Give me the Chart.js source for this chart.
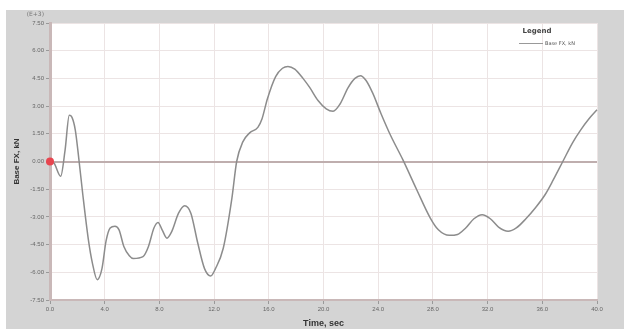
<!DOCTYPE html>
<html lang="en">
<head>
  <meta charset="UTF-8" />
  <title>Base FX time history</title>
  <script src="https://cdn.jsdelivr.net/npm/chart.js"></script>
  <style>
    body { margin: 0; background: white; }
    #chart { display: block; }
  </style>
</head>
<body>
  <canvas id="chart" width="624" height="329"></canvas>
  <script>
    // time (sec) and base shear (kN, E+3)
    const times = [0, 0.3, 0.78, 1.1, 1.41, 1.6, 1.85, 2.1, 2.4, 2.8, 3.1, 3.45, 3.8, 4.1, 4.4, 4.75, 5.05, 5.4, 5.8, 6.1, 6.8, 7.2, 7.6, 7.9, 8.2, 8.55, 8.9, 9.4, 9.85, 10.3, 10.8, 11.3, 11.75, 12.1, 12.67, 13.3, 13.65, 14.1, 14.6, 15.2, 15.5, 15.9, 16.5, 17.0, 17.4, 17.9, 18.5, 19.0, 19.6, 20.2, 20.7, 21.2, 21.8, 22.3, 22.7, 23.1, 23.6, 24.2, 24.9, 25.8, 26.8, 27.8, 28.4, 29.2, 29.8, 30.4, 31.0, 31.6, 32.2, 32.8, 33.5, 34.1, 34.8, 35.5, 36.2, 36.8, 37.5, 38.2, 38.8, 39.4, 40.0];
    const baseFx = [0, -0.1, -0.8, 0.6, 2.5, 2.4, 1.7, 0.2, -1.8, -4.2, -5.5, -6.4, -5.8, -4.3, -3.6, -3.5, -3.7, -4.6, -5.1, -5.25, -5.15, -4.6, -3.6, -3.3, -3.7, -4.15, -3.8, -2.8, -2.4, -2.8, -4.4, -5.8, -6.2, -5.8, -4.7, -2.0, 0.0, 1.06, 1.55, 1.85, 2.3, 3.4, 4.6, 5.05, 5.15, 5.0, 4.5, 4.0, 3.3, 2.85, 2.72, 3.1, 4.0, 4.5, 4.65, 4.4, 3.7, 2.6, 1.42, 0.1, -1.5, -3.05, -3.7, -4.0, -3.95, -3.6, -3.1, -2.88, -3.1, -3.55, -3.78, -3.6, -3.1, -2.5, -1.8, -1.0, 0.0, 1.0, 1.7, 2.3, 2.8];
    const xTicks = [0, 4, 8, 12, 16, 20, 24, 28, 32, 36, 40];
    const yTicks = [-7.5, -6, -4.5, -3, -1.5, 0, 1.5, 3, 4.5, 6, 7.5];

    const points = times.map((t, i) => ({ x: t, y: baseFx[i] }));

    const frame = {
      id: 'frame',
      beforeDraw(chart) {
        const c = chart.ctx, a = chart.chartArea;
        c.save();
        c.fillStyle = '#ffffff';
        c.fillRect(0, 0, chart.width, chart.height);
        c.fillStyle = '#d4d4d4';
        c.fillRect(6, 10, chart.width - 6, chart.height - 10);
        c.fillStyle = '#ffffff';
        c.fillRect(a.left, a.top, a.right - a.left, a.bottom - a.top);
        c.fillStyle = '#777';
        c.font = '6px "DejaVu Sans"';
        c.textAlign = 'right';
        c.fillText('(E+3)', 44, 16);
        c.restore();
      },
      afterDraw(chart) {
        const c = chart.ctx;
        c.save();
        c.fillStyle = '#444';
        c.font = 'bold 7px "DejaVu Sans"';
        c.textAlign = 'center';
        c.fillText('Legend', 537, 33);
        c.strokeStyle = '#999';
        c.lineWidth = 1;
        c.beginPath();
        c.moveTo(519, 43.5);
        c.lineTo(543, 43.5);
        c.stroke();
        c.font = '5px "DejaVu Sans"';
        c.textAlign = 'left';
        c.fillStyle = '#555';
        c.fillText('Base FX, kN', 545, 45);
        c.restore();
      }
    };

    new Chart(document.getElementById('chart'), {
      type: 'line',
      data: {
        datasets: [{
          label: 'Base FX, kN',
          data: points,
          borderColor: '#8c8c8c',
          borderWidth: 1.5,
          cubicInterpolationMode: 'monotone',
          clip: false,
          pointRadius: ctx => ctx.dataIndex === 0 ? 4 : 0,
          pointBackgroundColor: '#e8454f',
          pointBorderWidth: 0
        }]
      },
      options: {
        responsive: false,
        animation: false,
        layout: { padding: { left: 0, top: 23, right: 27, bottom: 0 } },
        plugins: { legend: { display: false }, tooltip: { enabled: false } },
        scales: {
          x: {
            type: 'linear', min: 0, max: 40,
            afterBuildTicks: s => { s.ticks = xTicks.map(v => ({ value: v })); },
            afterFit: s => { s.height = 29; },
            ticks: { font: { size: 6 }, color: '#666', padding: 2, callback: v => v.toFixed(1) },
            grid: { color: '#ece4e4', tickLength: 4, tickColor: '#999' },
            border: { color: '#c9b8b8', width: 2 },
            title: { display: true, text: 'Time, sec', font: { size: 9, weight: 'bold' }, color: '#333', padding: { top: 0, bottom: 0 } }
          },
          y: {
            type: 'linear', min: -7.5, max: 7.5,
            afterBuildTicks: s => { s.ticks = yTicks.map(v => ({ value: v })); },
            afterFit: s => { s.width = 50; },
            ticks: { font: { size: 6 }, color: '#666', padding: 2, callback: v => v.toFixed(2) },
            grid: {
              color: ctx => ctx.tick && ctx.tick.value === 0 ? '#bfaeae' : '#ece4e4',
              lineWidth: ctx => ctx.tick && ctx.tick.value === 0 ? 2 : 1,
              tickLength: 4, tickColor: '#999'
            },
            border: { color: '#c9b8b8', width: 3 },
            title: { display: true, text: 'Base FX, kN', font: { size: 8, weight: 'bold' }, color: '#333', padding: { top: 12, bottom: 0 } }
          }
        }
      },
      plugins: [frame]
    });
  </script>
</body>
</html>
